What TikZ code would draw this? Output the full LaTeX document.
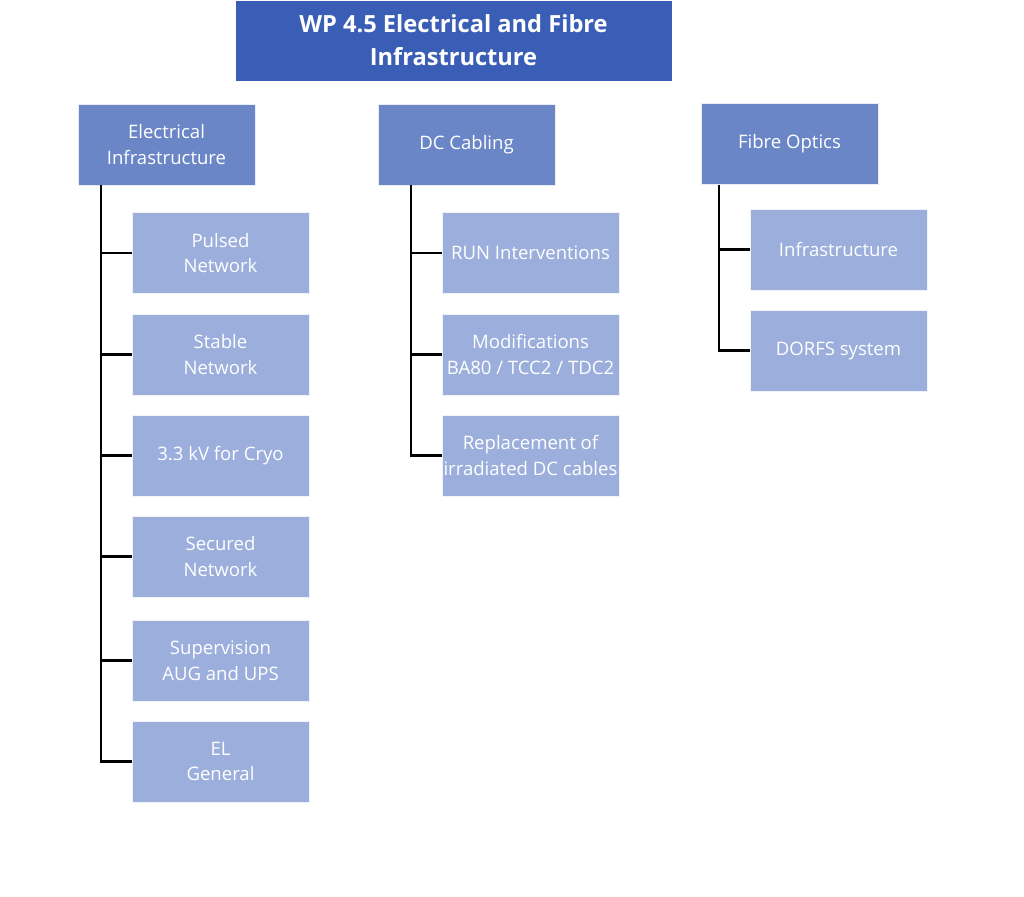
\documentclass[tikz,border=0pt]{standalone}
\usepackage{fontspec}
\setmainfont{Open Sans}
\usetikzlibrary{positioning}

\definecolor{wpblue}{RGB}{58,93,182}
\definecolor{groupblue}{RGB}{107,134,199}
\definecolor{taskblue}{RGB}{155,174,220}

\tikzset{
  titlebox/.style={rectangle, fill=wpblue, draw=white, text=white, align=center,
    minimum width=10.925cm, minimum height=2.025cm, inner sep=0pt,
    font=\fontsize{16.8}{23.4}\selectfont\bfseries},
  groupbox/.style={rectangle, fill=groupblue, draw=white!85!groupblue, text=white, align=center,
    minimum width=4.425cm, minimum height=2.025cm, inner sep=0pt,
    font=\fontsize{13.2}{18.4}\selectfont},
  taskbox/.style={rectangle, fill=taskblue, draw=white!85!taskblue, text=white, align=center,
    minimum width=4.425cm, minimum height=2.025cm, inner sep=0pt,
    font=\fontsize{13.2}{18.4}\selectfont},
  link/.style={line width=1.8pt, black}
}

\begin{document}
\begin{tikzpicture}[x=0.025cm, y=-0.025cm]
\useasboundingbox (0,0) rectangle (1024,896);

% Title
\node[titlebox] (wp) at (453.5,40.5) {WP 4.5 Electrical and Fibre\\Infrastructure};

% Groups
\node[groupbox] (elec) at (166.5,144.5) {Electrical\\Infrastructure};
\node[groupbox] (dc) at (466.5,144.5) {DC Cabling};
\node[groupbox] (fibre) at (789.5,143.5) {Fibre Optics};

% Electrical tasks
\node[taskbox] (pulsed) at (220.5,253) {Pulsed\\Network};
\node[taskbox] (stable) at (220.5,354.5) {Stable\\Network};
\node[taskbox] (cryo) at (220.5,455.5) {3.3 kV for Cryo};
\node[taskbox] (secured) at (220.5,556.5) {Secured\\Network};
\node[taskbox] (superv) at (220.5,660.5) {Supervision\\AUG and UPS};
\node[taskbox] (elgen) at (220.5,761.5) {EL\\General};

% DC tasks
\node[taskbox] (run) at (530.5,253) {RUN Interventions};
\node[taskbox] (modif) at (530.5,354.5) {Modifications\\BA80 / TCC2 / TDC2};
\node[taskbox] (repl) at (530.5,455.5) {Replacement of\\irradiated DC cables};

% Fibre tasks
\node[taskbox] (infra) at (838.5,249.5) {Infrastructure};
\node[taskbox] (dorfs) at (838.5,350.5) {DORFS system};

% Links
\coordinate (etop) at (101,185);
\coordinate (dtop) at (411,185);
\coordinate (ftop) at (719,185);
\foreach \t in {pulsed,stable,cryo,secured,superv,elgen}
  \draw[link] (etop) |- (\t.west);
\foreach \t in {run,modif,repl}
  \draw[link] (dtop) |- (\t.west);
\foreach \t in {infra,dorfs}
  \draw[link] (ftop) |- (\t.west);
\end{tikzpicture}
\end{document}
